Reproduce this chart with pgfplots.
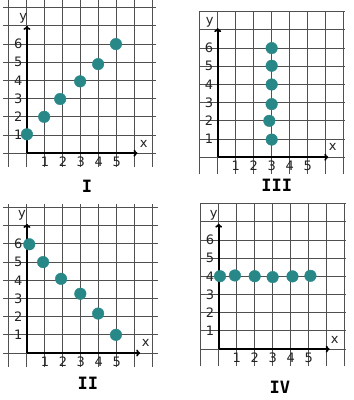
\documentclass[border=0pt]{standalone}
\usepackage{fontspec}
\setmainfont{DejaVu Sans}
\newfontfamily\titlefont{DejaVu Sans Mono}
\usepackage{pgfplots}
\pgfplotsset{compat=1.18}
\usetikzlibrary{arrows.meta}
\definecolor{dotc}{RGB}{40,136,136}
\definecolor{gridc}{RGB}{80,80,80}
\definecolor{txtc}{RGB}{35,35,35}
\pgfplotsset{
  panel/.style={
    x=18pt, y=18.2pt,
    anchor=south west,
    axis lines=middle,
    axis line style={draw=none},
    clip=false,
    xtick={1,2,3,4,5},
    ytick={1,2,3,4,5,6},
    extra x ticks={-1,0,6,7},
    extra y ticks={-1,0,7,8},
    extra x tick labels={},
    extra y tick labels={},
    extra x tick style={grid=major},
    extra y tick style={grid=major},
    grid=major,
    major grid style={gridc, line width=0.9pt},
    major tick length=0pt,
    tick style={draw=none},
    /pgf/number format/assume math mode=true,
    ticklabel style={font=\fontsize{13}{15}\selectfont, text=txtc},
    xticklabel style={yshift=0pt},
    yticklabel style={xshift=-1pt},
  },
  dots/.style={only marks, mark=*, mark size=5.8pt, mark options={fill=dotc, draw=dotc}},
}
\newcommand{\axesarrows}[4]{%
  \draw[line width=1.7pt, -{To[length=4pt,width=7pt]}] (axis cs:0,0) -- (axis cs:#1,0);
  \draw[line width=1.7pt, -{To[length=4pt,width=7pt]}] (axis cs:0,0) -- (axis cs:0,#2);
  \node[font=\fontsize{13}{15}\selectfont, text=txtc] at (axis cs:#3) {x};
  \node[font=\fontsize{13}{15}\selectfont, text=txtc] at (axis cs:#4) {y};
}
\begin{document}
\begin{tikzpicture}
\path (0pt,0pt) rectangle (354pt,400pt);
% Panel I
\begin{axis}[panel, at={(3pt,233pt)}, xmin=-1.33, xmax=7.2, ymin=-0.77, ymax=8.4]
\addplot[dots] coordinates {(0,1.04) (0.96,2.0) (1.85,2.98) (2.96,3.95) (3.96,4.9) (4.95,6.0)};
\axesarrows{6.15}{7.0}{6.5,0.5}{-0.2,7.4}
\end{axis}
% Panel III
\begin{axis}[panel, at={(199pt,226.6pt)}, xmin=-1.05, xmax=7.05, ymin=-0.9, ymax=8.05]
\addplot[dots] coordinates {(3,0.97) (2.87,2.0) (3,2.92) (3,4.0) (3,5.03) (3,6.0)};
\axesarrows{6.15}{7.1}{6.4,0.55}{-0.45,7.4}
\end{axis}
% Panel II
\begin{axis}[panel, at={(3pt,33pt)}, xmin=-1.33, xmax=7.3, ymin=-0.77, ymax=8.2]
\addplot[dots] coordinates {(0.13,5.98) (0.9,5.0) (1.9,4.08) (2.97,3.26) (3.96,2.17) (4.95,1.0)};
\axesarrows{6.3}{7.1}{6.6,0.55}{-0.28,7.6}
\end{axis}
% Panel IV
\begin{axis}[panel, at={(200pt,34pt)}, xmin=-1.05, xmax=7.1, ymin=-0.93, ymax=8.0]
\addplot[dots] coordinates {(0.07,4.01) (0.9,4.05) (2.0,4.01) (3.0,3.96) (4.1,4.0) (5.1,4.03)};
\axesarrows{6.17}{6.9}{6.45,0.5}{-0.28,7.36}
\end{axis}
% titles
\node[font=\titlefont\bfseries\fontsize{17}{19}\selectfont] at (87pt,214pt) {I};
\node[font=\titlefont\bfseries\fontsize{17}{19}\selectfont] at (277pt,215pt) {III};
\node[font=\titlefont\bfseries\fontsize{17}{19}\selectfont] at (88pt,17pt) {II};
\node[font=\titlefont\bfseries\fontsize{17}{19}\selectfont] at (280pt,13pt) {IV};
\end{tikzpicture}
\end{document}
